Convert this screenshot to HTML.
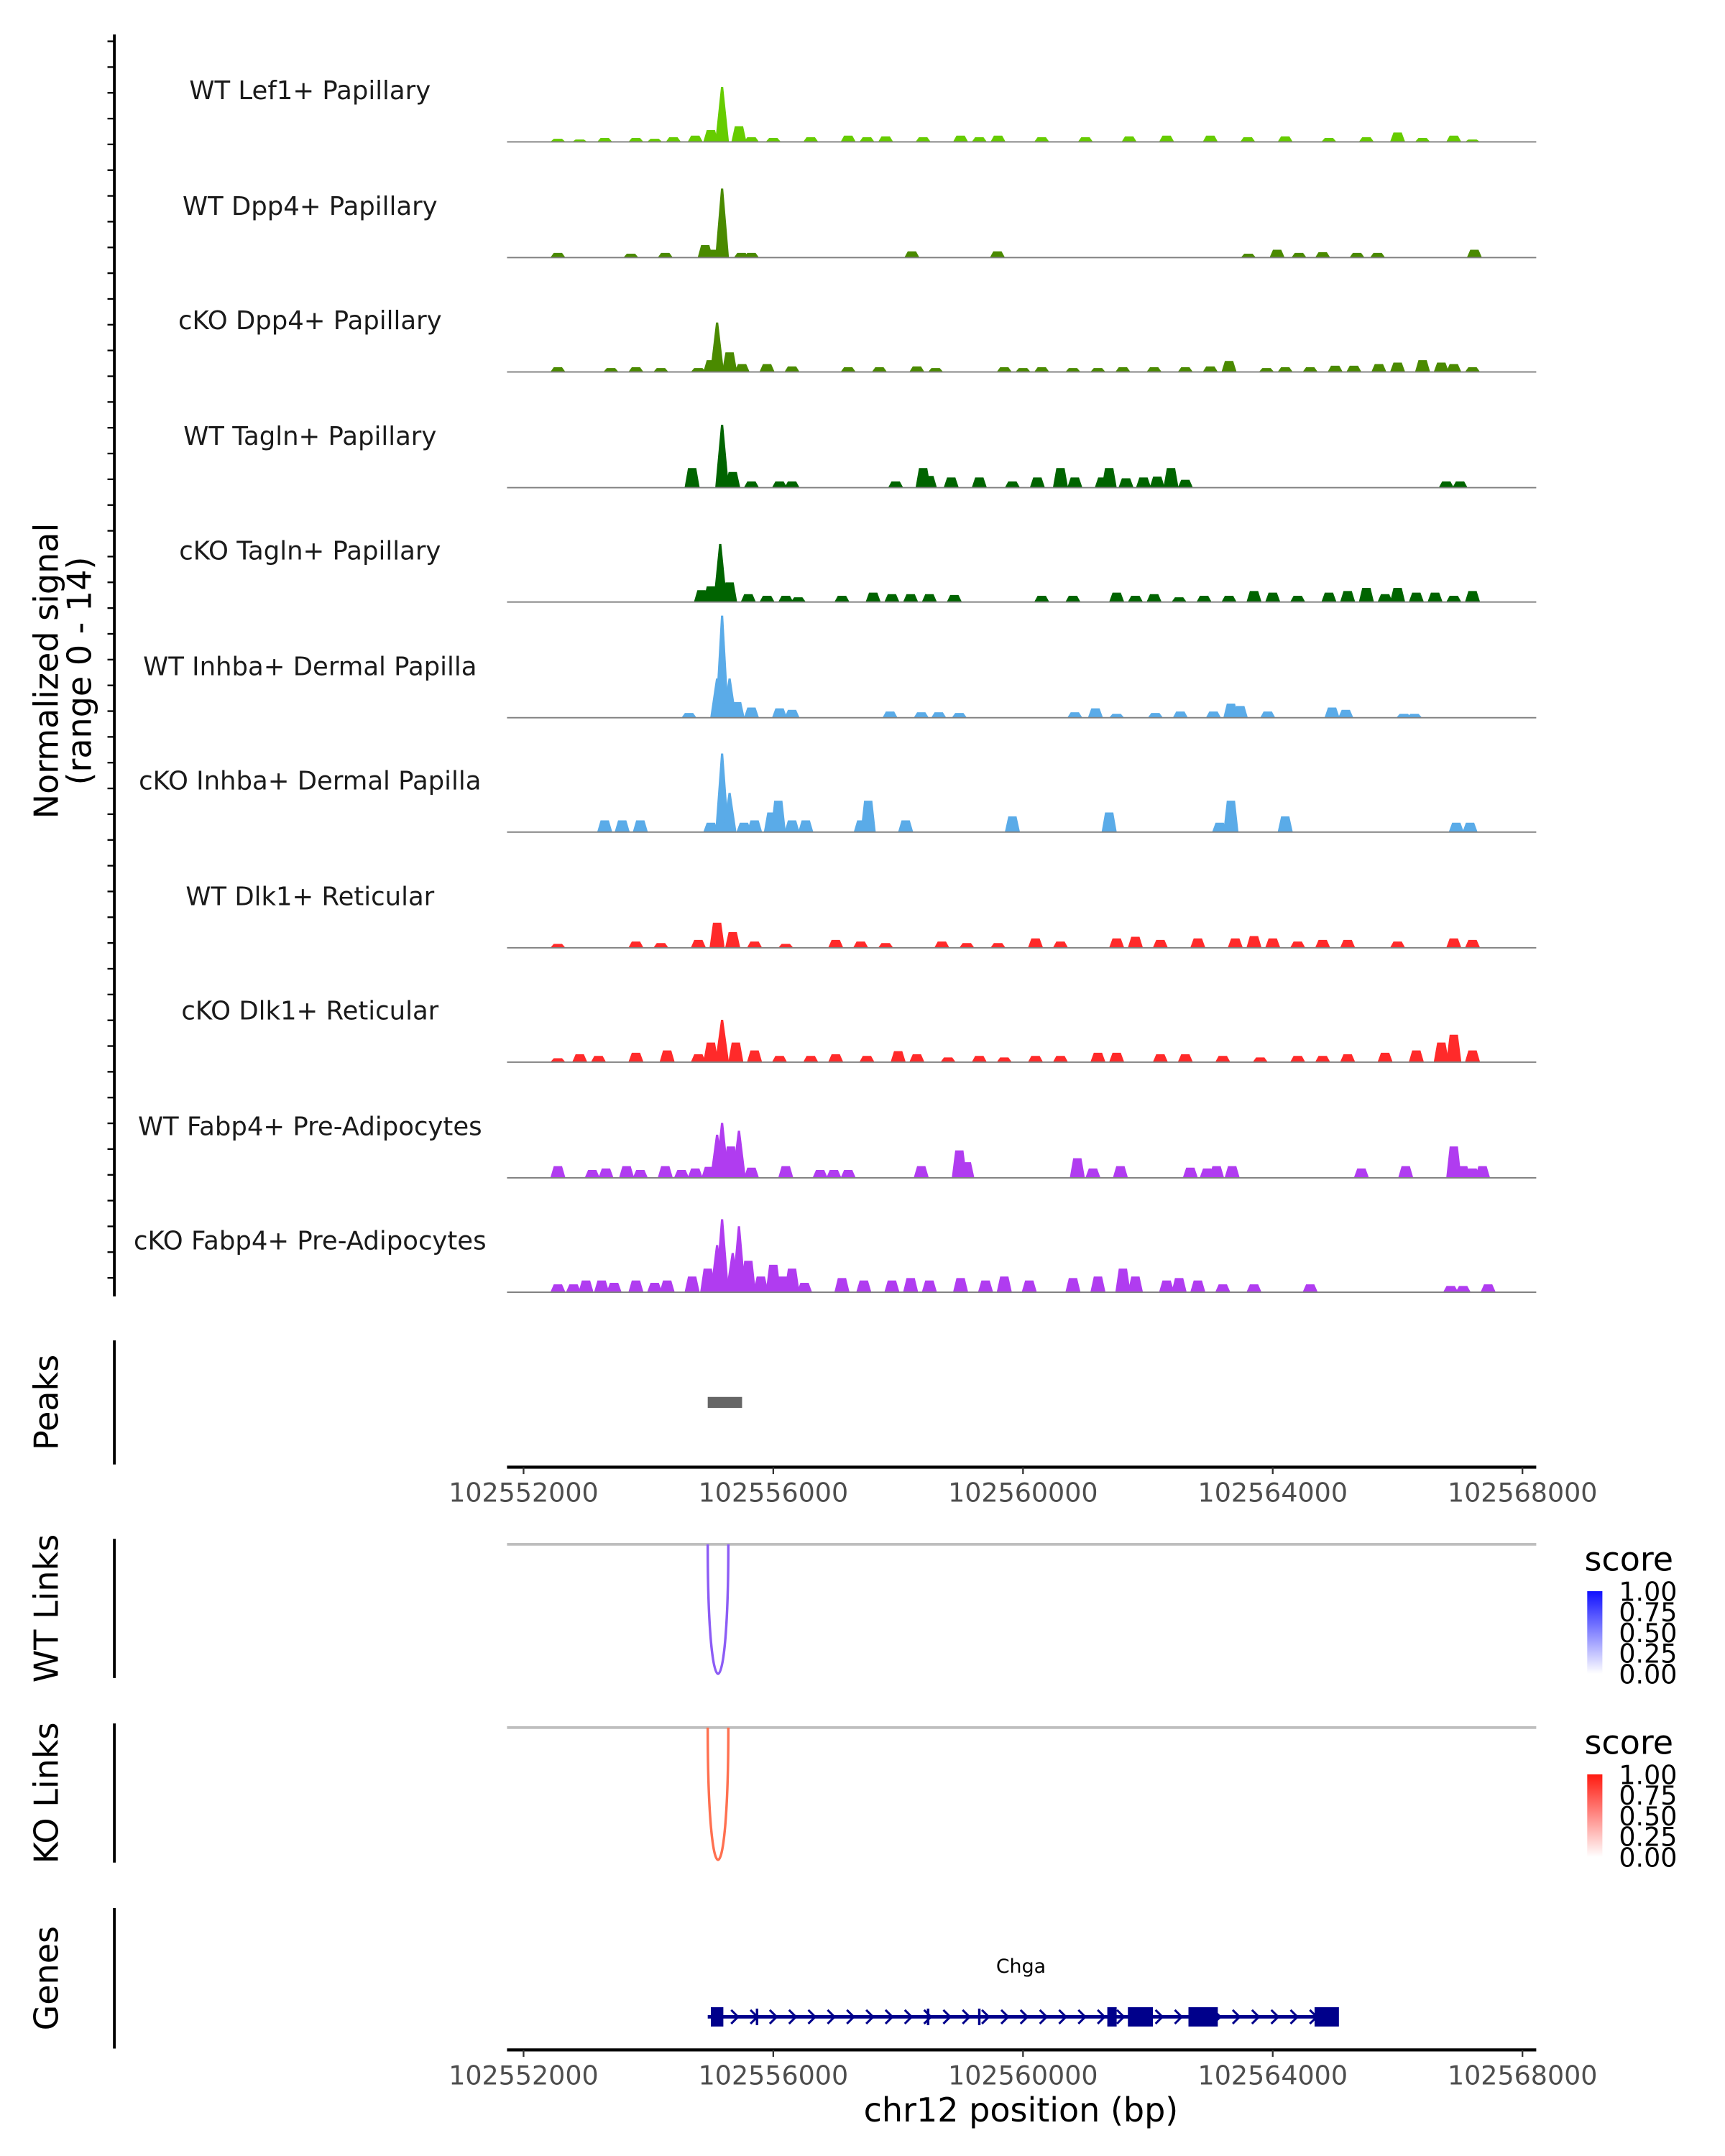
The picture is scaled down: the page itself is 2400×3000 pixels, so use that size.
<!DOCTYPE html>
<html><head><meta charset="utf-8"><style>
html,body{margin:0;padding:0;background:#fff}
svg{display:block;font-family:"DejaVu Sans","Liberation Sans",sans-serif}
</style></head><body>
<svg id="chart" width="2400" height="3000" viewBox="0 0 1252 1565" xmlns="http://www.w3.org/2000/svg"></svg>
<script>
// ---- data ----
const trackNames = ["WT Lef1+ Papillary","WT Dpp4+ Papillary","cKO Dpp4+ Papillary","WT Tagln+ Papillary","cKO Tagln+ Papillary","WT Inhba+ Dermal Papilla","cKO Inhba+ Dermal Papilla","WT Dlk1+ Reticular","cKO Dlk1+ Reticular","WT Fabp4+ Pre-Adipocytes","cKO Fabp4+ Pre-Adipocytes"];
const trackColors = ["#66cc00","#4a8a00","#4a8a00","#006400","#006400","#5aabe8","#5aabe8","#ff2a2a","#ff2a2a","#b03cf0","#b03cf0"];
// peaks: [position kb, signal]
const sigLef1 = [[102552.55,0.4],[102552.9,0.3],[102553.3,0.5],[102553.8,0.5],[102554.1,0.4],[102554.4,0.6],[102554.75,0.8],[102555.0,1.5],[102555.18,7],[102555.45,2],[102555.65,0.6],[102556.0,0.5],[102556.6,0.6],[102557.2,0.8],[102557.5,0.6],[102557.8,0.7],[102558.4,0.6],[102559.0,0.8],[102559.3,0.6],[102559.6,0.8],[102560.3,0.6],[102561.0,0.6],[102561.7,0.7],[102562.3,0.8],[102563.0,0.8],[102563.6,0.6],[102564.2,0.7],[102564.9,0.5],[102565.5,0.6],[102566.0,1.2],[102566.4,0.5],[102566.9,0.8],[102567.2,0.3]];
const sigWtDpp4 = [[102552.55,0.6],[102553.72,0.5],[102554.27,0.6],[102554.91,1.6],[102555.05,1.0],[102555.18,8.8],[102555.49,0.6],[102555.65,0.6],[102558.22,0.8],[102559.59,0.8],[102563.61,0.5],[102564.07,1.0],[102564.42,0.6],[102564.8,0.7],[102565.35,0.6],[102565.68,0.6],[102567.23,1.0]];
const sigKoDpp4 = [[102552.55,0.6],[102553.4,0.5],[102553.8,0.6],[102554.2,0.5],[102554.8,0.5],[102555.0,1.5],[102555.1,6.3],[102555.3,2.5],[102555.5,1],[102555.9,1],[102556.3,0.7],[102557.2,0.6],[102557.7,0.6],[102558.3,0.7],[102558.6,0.5],[102559.7,0.6],[102560.0,0.5],[102560.3,0.6],[102560.8,0.5],[102561.2,0.5],[102561.6,0.6],[102562.1,0.6],[102562.6,0.6],[102563.0,0.7],[102563.3,1.4],[102563.9,0.5],[102564.2,0.6],[102564.6,0.6],[102565.0,0.8],[102565.3,0.8],[102565.7,1.0],[102566.0,1.2],[102566.4,1.5],[102566.7,1.2],[102566.9,1.0],[102567.2,0.6]];
const sigWtTagln = [[102554.7,2.5],[102555.18,8],[102555.35,2],[102555.65,0.8],[102556.1,0.8],[102556.3,0.8],[102557.96,0.8],[102558.4,2.5],[102558.5,1.5],[102558.85,1.3],[102559.3,1.3],[102559.83,0.8],[102560.23,1.3],[102560.6,2.5],[102560.83,1.3],[102561.27,1.3],[102561.38,2.5],[102561.65,1.2],[102561.93,1.3],[102562.15,1.4],[102562.37,2.5],[102562.6,1],[102566.78,0.8],[102567.0,0.8]];
const sigKoTagln = [[102554.85,1.5],[102555.0,2],[102555.15,7.4],[102555.3,2.5],[102555.6,1],[102555.9,0.8],[102556.2,0.8],[102556.4,0.6],[102557.1,0.8],[102557.6,1.2],[102557.9,1],[102558.2,1],[102558.5,1],[102558.9,0.9],[102560.3,0.8],[102560.8,0.8],[102561.5,1.2],[102561.8,0.8],[102562.1,1],[102562.5,0.6],[102562.9,0.8],[102563.3,0.8],[102563.7,1.4],[102564.0,1.2],[102564.4,0.8],[102564.9,1.2],[102565.2,1.4],[102565.5,1.8],[102565.8,1.0],[102566.0,1.8],[102566.3,1.2],[102566.6,1.2],[102566.9,0.8],[102567.2,1.4]];
const sigWtInhba = [[102554.65,0.6],[102555.1,5],[102555.18,13],[102555.3,5],[102555.42,2],[102555.65,1.3],[102556.1,1.2],[102556.3,1],[102557.87,0.8],[102558.37,0.7],[102558.65,0.7],[102558.98,0.6],[102560.83,0.7],[102561.16,1.2],[102561.5,0.5],[102562.12,0.6],[102562.52,0.8],[102563.05,0.8],[102563.33,1.8],[102563.48,1.5],[102563.92,0.8],[102564.95,1.3],[102565.17,1],[102566.1,0.5],[102566.27,0.5]];
const sigKoInhba = [[102553.3,1.5],[102553.58,1.5],[102553.87,1.5],[102555.0,1.2],[102555.18,10],[102555.3,5],[102555.53,1.2],[102555.7,1.5],[102555.97,2.5],[102556.08,4],[102556.3,1.5],[102556.52,1.5],[102557.41,1.5],[102557.52,4],[102558.12,1.5],[102559.83,2],[102561.38,2.5],[102563.15,1.2],[102563.33,4],[102564.2,2],[102566.94,1.2],[102567.16,1.2]];
const sigWtDlk1 = [[102552.55,0.5],[102553.8,0.8],[102554.2,0.6],[102554.8,1],[102555.1,3.2],[102555.35,2],[102555.7,0.8],[102556.2,0.5],[102557.0,1],[102557.4,0.8],[102557.8,0.6],[102558.7,0.8],[102559.1,0.6],[102559.6,0.6],[102560.2,1.2],[102560.6,0.8],[102561.5,1.2],[102561.8,1.4],[102562.2,1],[102562.8,1.2],[102563.4,1.2],[102563.7,1.5],[102564.0,1.2],[102564.4,0.8],[102564.8,1],[102565.2,1],[102566.0,0.8],[102566.9,1.2],[102567.2,1.0]];
const sigKoDlk1 = [[102552.55,0.5],[102552.9,1],[102553.2,0.8],[102553.8,1.2],[102554.3,1.5],[102554.8,1],[102555.0,2.5],[102555.18,5.4],[102555.4,2.5],[102555.7,1.5],[102556.1,0.8],[102556.6,0.8],[102557.0,1],[102557.5,0.8],[102558.0,1.4],[102558.3,1],[102558.8,0.6],[102559.3,0.8],[102559.7,0.6],[102560.2,0.8],[102560.6,0.8],[102561.2,1.2],[102561.5,1.2],[102562.2,1],[102562.6,1],[102563.2,0.8],[102563.8,0.6],[102564.4,0.8],[102564.8,0.8],[102565.2,1],[102565.8,1.2],[102566.3,1.5],[102566.7,2.5],[102566.9,3.5],[102567.2,1.5]];
const sigWtFabp4 = [[102552.55,1.5],[102553.1,1],[102553.32,1.2],[102553.65,1.5],[102553.87,1],[102554.27,1.5],[102554.53,1],[102554.75,1.2],[102554.97,1.4],[102555.1,5.5],[102555.18,7],[102555.32,4],[102555.45,6],[102555.65,1.3],[102556.2,1.5],[102556.75,1],[102556.97,1],[102557.2,1],[102558.37,1.5],[102558.98,3.5],[102559.1,2],[102560.87,2.5],[102561.12,1.2],[102561.56,1.5],[102562.68,1.3],[102562.95,1.2],[102563.1,1.5],[102563.35,1.5],[102565.42,1.2],[102566.13,1.5],[102566.9,4],[102567.05,1.5],[102567.2,1.2],[102567.36,1.5]];
const sigKoFabp4 = [[102552.55,1],[102552.8,1],[102553.0,1.5],[102553.25,1.5],[102553.45,1.2],[102553.8,1.5],[102554.1,1.2],[102554.3,1.5],[102554.7,2],[102554.95,3],[102555.1,6],[102555.18,9.3],[102555.35,5],[102555.45,8.4],[102555.6,4],[102555.8,2],[102556.0,3.5],[102556.15,2],[102556.3,3],[102556.5,1.2],[102557.1,1.8],[102557.45,1.5],[102557.9,1.5],[102558.2,1.8],[102558.5,1.5],[102559.0,1.8],[102559.4,1.5],[102559.7,2],[102560.1,1.5],[102560.8,1.8],[102561.2,2],[102561.6,3],[102561.8,2],[102562.3,1.5],[102562.5,1.8],[102562.8,1.5],[102563.2,1],[102563.7,1],[102564.6,1],[102566.85,0.8],[102567.05,0.8],[102567.45,1]];
const signals = [sigLef1,sigWtDpp4,sigKoDpp4,sigWtTagln,sigKoTagln,sigWtInhba,sigKoInhba,sigWtDlk1,sigKoDlk1,sigWtFabp4,sigKoFabp4];
const peakRegions = [[102554.95,102555.5]];
const linkStart = [102554.95];
const linkEnd = [102555.28];
const xTicks = [102552000,102556000,102560000,102564000,102568000];
const legendTicks = ["1.00","0.75","0.50","0.25","0.00"];
const geneStart = 102554.95, geneEnd = 102565.0;
const exons = [[102555.0,102555.2],[102555.72,102555.75],[102558.46,102558.5],[102559.28,102559.31],[102561.35,102561.5],[102561.68,102562.08],[102562.65,102563.12],[102564.67,102565.06]];

// ---- scales ----
const X0 = 380, KX = 725/16000;
const xs = kb => X0 + (kb*1000 - 102552000)*KX;
const xb = bp => X0 + (bp - 102552000)*KX;
const baselines = [103,187,270,354,437,521,604,688,771,855,938];
const ys = (base,v) => base - v*5.7;

const svg = document.getElementById('chart');
const NS = 'http://www.w3.org/2000/svg';
function mk(tag, attrs, parent){const e=document.createElementNS(NS,tag);for(const k in attrs)e.setAttribute(k,attrs[k]);(parent||svg).appendChild(e);return e;}
function txt(s, attrs, parent){const e=mk('text',attrs,parent);e.textContent=s;return e;}

// left axis of coverage
let ax = mk('line',{x1:83,y1:25,x2:83,y2:941,stroke:'#000','stroke-width':2});


for(let y=30;y<941;y+=18.7){
  const t=mk('line',{x1:78,y1:y,x2:83,y2:y,stroke:'#000','stroke-width':1.2});
  
  
}
let yt = txt('Normalized signal',{x:0,y:0,'font-size':24,'text-anchor':'middle',transform:'translate(42,487) rotate(-90)'});


let yt2 = txt('(range 0 - 14)',{x:0,y:0,'font-size':24,'text-anchor':'middle',transform:'translate(66,487) rotate(-90)'});



// tracks
signals.forEach((sig,i)=>{
  const base = baselines[i];
  const g = mk('g',{});
  
  
  const lab = txt(trackNames[i],{x:225,y:base-31,'font-size':18.5,'text-anchor':'middle',fill:'#1a1a1a'},g);
  
  
  sig.forEach(p=>{
    const cx = xs(p[0]); const top = ys(base,p[1]);
    const hw = p[1]>4 ? 5 : 5.5;
    const tw = p[1]>4 ? 0.8 : 3;
    const poly = mk('polygon',{points:`${cx-hw},${base} ${cx-tw},${top} ${cx+tw},${top} ${cx+hw},${base}`,fill:trackColors[i]},g);
    
    
  });
  const bl = mk('line',{x1:368,y1:base,x2:1115,y2:base,stroke:'#7f7f7f','stroke-width':1},g);
  
  
});

// side panels axes and labels
function sidePanel(name,label,y1,y2){
  const l=mk('line',{x1:83,y1:y1,x2:83,y2:y2,stroke:'#000','stroke-width':2});
  
  
  const t=txt(label,{x:0,y:0,'font-size':24,'text-anchor':'middle',transform:`translate(42,${(y1+y2)/2}) rotate(-90)`});
  
  
}
sidePanel('peaks','Peaks',973,1063);
sidePanel('wt-links','WT Links',1117,1218);
sidePanel('ko-links','KO Links',1251,1352);
sidePanel('genes','Genes',1385,1487);

peakRegions.forEach(r=>{
  const rc=mk('rect',{x:xs(r[0]),y:1014,width:xs(r[1])-xs(r[0]),height:8,fill:'#666'});
  
  
});

function xAxis(y,name){
  const l=mk('line',{x1:368,y1:y,x2:1115,y2:y,stroke:'#000','stroke-width':2.2});
  
  
  xTicks.forEach(t=>{
    const x=xb(t);
    const tk=mk('line',{x1:x,y1:y,x2:x,y2:y+5,stroke:'#333','stroke-width':1.2});
    
    
    const tl=txt(String(t),{x:x,y:y+25,'font-size':19,'text-anchor':'middle',fill:'#4d4d4d'});
    
    
  });
}
xAxis(1065,'peaks-x-axis');

// links
function links(yTop,yBot,color,name,legendColor){
  const gl=mk('line',{x1:368,y1:yTop,x2:1115,y2:yTop,stroke:'#bebebe','stroke-width':2});
  
  
  linkStart.forEach((s,i)=>{
    const a=xs(s), b=xs(linkEnd[i]);
    const cy = yTop + (yBot-yTop)/0.75;
    const p=mk('path',{d:`M${a},${yTop} C${a},${cy} ${b},${cy} ${b},${yTop}`,fill:'none',stroke:color,'stroke-width':1.8});
    
    
  });
  const lt=txt('score',{x:1150,y:yTop+19,'font-size':24});
  
  
  const gid='grad-'+name;
  const defs=mk('defs',{});
  const lg=mk('linearGradient',{id:gid,x1:0,y1:1,x2:0,y2:0},defs);
  mk('stop',{offset:'0','stop-color':'#ffffff'},lg);
  mk('stop',{offset:'1','stop-color':legendColor},lg);
  const cb=mk('rect',{x:1152,y:yTop+34,width:11,height:60,fill:`url(#${gid})`});
  
  
  legendTicks.forEach((t,i)=>{
    const y=yTop+34+i*15;
    const tl=txt(t,{x:1175,y:y+7,'font-size':19});
    
    
  });
}
links(1121,1215,'#8c5cf5','wt-links','#1010ff');
links(1254,1350,'#ff7050','ko-links','#ff1a10');

// gene
const gy=1464;
const gg=mk('g',{});


const gl=mk('line',{x1:xs(geneStart),y1:gy,x2:xs(geneEnd),y2:gy,stroke:'#00008b','stroke-width':2.5},gg);


for(let x=xs(geneStart)+6;x<xs(geneEnd)-6;x+=14){
  const ar=mk('polyline',{points:`${x-3},${gy-5} ${x+2},${gy} ${x-3},${gy+5}`,fill:'none',stroke:'#00008b','stroke-width':1.6},gg);
  
  
}
exons.forEach(e=>{
  const w=Math.max(1.8,xs(e[1])-xs(e[0]));
  const h=w>5?14:12;
  const r=mk('rect',{x:xs(e[0]),y:gy-h/2,width:w,height:h,fill:'#00008b'},gg);
  
  
});
const gname=txt('Chga',{x:741,y:1432,'font-size':14,'text-anchor':'middle'});


xAxis(1488,'genes-x-axis');
const xt=txt('chr12 position (bp)',{x:741,y:1540,'font-size':24,'text-anchor':'middle'});


</script>
</body></html>
